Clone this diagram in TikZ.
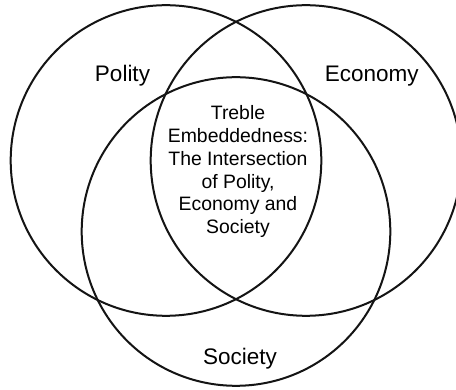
\documentclass[tikz,border=0pt]{standalone}
\usepackage{fontspec}
\setmainfont{Liberation Sans}
\begin{document}
\begin{tikzpicture}[x=1pt,y=-1pt,
  ring/.style={draw=black!92,line width=2pt},
  biglabel/.style={font=\fontsize{22.5}{27}\selectfont,text=black,inner sep=0pt,anchor=base},
  midlabel/.style={font=\fontsize{19.4}{22.7}\selectfont,text=black,inner sep=0pt,align=center}]
\useasboundingbox (0,0) rectangle (456,390);
\clip (0,0) rectangle (456,390);
\fill[white] (0,0) rectangle (456,390);
\draw[ring] (166,160.5) circle[radius=155.3];
\draw[ring] (306,160.5) circle[radius=155.3];
\draw[ring] (236,231.5) circle[radius=154.3];
\node[biglabel] (polity) at (122.5,81.7) {Polity};
\node[biglabel] (economy) at (371.7,81.7) {Economy};
\node[biglabel] (society) at (240,365) {Society};
\node[midlabel] (centre) at (238,171.7) {Treble\\Embeddedness:\\The Intersection\\of Polity,\\Economy and\\Society};
\end{tikzpicture}
\end{document}
